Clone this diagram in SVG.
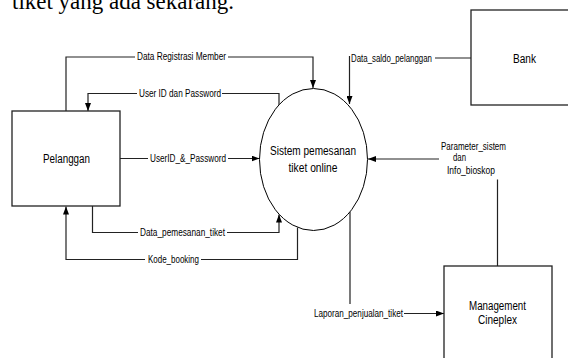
<svg xmlns="http://www.w3.org/2000/svg" width="568" height="358" viewBox="0 0 568 358">
<style>
.box{fill:#fff;stroke:#222;stroke-width:1.3}
.proc{fill:#fff;stroke:#000;stroke-width:1}
.con{fill:none;stroke:#222;stroke-width:1.2}
.main{font-family:"Liberation Sans Narrow","Liberation Sans",Arial,sans-serif;font-size:12px;fill:#000}
.lbl{font-family:"Liberation Sans Narrow","Liberation Sans",Arial,sans-serif;font-size:10px;fill:#000}
.top{font-family:"Liberation Serif","Times New Roman",serif;font-size:23px;fill:#000}
</style>
<defs>
<marker id="arr" markerUnits="userSpaceOnUse" markerWidth="8" markerHeight="6" refX="8" refY="3" orient="auto">
<path d="M0,0 L8,3 L0,6 z" fill="#000"/>
</marker>
</defs>
<rect width="568" height="358" fill="#fff"/>
<text class="top" x="12" y="9" textLength="222" lengthAdjust="spacingAndGlyphs">tiket yang ada sekarang.</text>

<g id="connectors">
<path class="con" d="M66,111 V57 H135 M228,57 H313 V88" marker-end="url(#arr)"/>
<path class="con" d="M279,105 V93.5 H222 M137,93.5 H88 V111" marker-end="url(#arr)"/>
<path class="con" d="M120,158.5 H148 M228,158.5 H259.5" marker-end="url(#arr)"/>
<path class="con" d="M92.5,206 V232.5 H138 M227,232.5 H279 V214.5" marker-end="url(#arr)"/>
<path class="con" d="M297.5,227.5 V259.5 H201 M145,259.5 H66 V206.5" marker-end="url(#arr)"/>
<path class="con" d="M471,58 H435 M349.5,56 V104" marker-end="url(#arr)"/>
<path class="con" d="M497.5,266 V179.5 M439,159 H368" marker-end="url(#arr)"/>
<path class="con" d="M350,212 V304 M404,313.5 H444" marker-end="url(#arr)"/>
<text class="lbl" x="137" y="60" textLength="89" lengthAdjust="spacingAndGlyphs">Data Registrasi Member</text>
<text class="lbl" x="139" y="97" textLength="82" lengthAdjust="spacingAndGlyphs">User ID dan Password</text>
<text class="lbl" x="150" y="162" textLength="76" lengthAdjust="spacingAndGlyphs">UserID_&amp;_Password</text>
<text class="lbl" x="140" y="236" textLength="85" lengthAdjust="spacingAndGlyphs">Data_pemesanan_tiket</text>
<text class="lbl" x="148" y="263" textLength="51" lengthAdjust="spacingAndGlyphs">Kode_booking</text>
<text class="lbl" x="351" y="61.5" textLength="81" lengthAdjust="spacingAndGlyphs">Data_saldo_pelanggan</text>
<text class="lbl" x="441" y="149.5" textLength="65" lengthAdjust="spacingAndGlyphs">Parameter_sistem</text>
<text class="lbl" x="453" y="161" textLength="13" lengthAdjust="spacingAndGlyphs">dan</text>
<text class="lbl" x="447" y="173.5" textLength="48" lengthAdjust="spacingAndGlyphs">Info_bioskop</text>
<text class="lbl" x="314" y="317" textLength="89" lengthAdjust="spacingAndGlyphs">Laporan_penjualan_tiket</text>
</g>

<g id="pelanggan">
<rect class="box" x="12" y="111" width="108" height="95"/>
<text class="main" x="66.5" y="163" text-anchor="middle" textLength="47" lengthAdjust="spacingAndGlyphs">Pelanggan</text>
</g>

<g id="sistem">
<ellipse class="proc" cx="313.5" cy="159.5" rx="54" ry="71"/>
<text class="main" x="313" y="154.5" text-anchor="middle" textLength="86" lengthAdjust="spacingAndGlyphs">Sistem pemesanan</text>
<text class="main" x="313" y="171.5" text-anchor="middle" textLength="49" lengthAdjust="spacingAndGlyphs">tiket online</text>
</g>

<g id="bank">
<rect class="box" x="471" y="10" width="120" height="95"/>
<text class="main" x="524.5" y="62.5" text-anchor="middle" textLength="23" lengthAdjust="spacingAndGlyphs">Bank</text>
</g>

<g id="management">
<rect class="box" x="444" y="266" width="108" height="110"/>
<text class="main" x="497.5" y="310" text-anchor="middle" textLength="57" lengthAdjust="spacingAndGlyphs">Management</text>
<text class="main" x="497.5" y="324" text-anchor="middle" textLength="39" lengthAdjust="spacingAndGlyphs">Cineplex</text>
</g>
</svg>
